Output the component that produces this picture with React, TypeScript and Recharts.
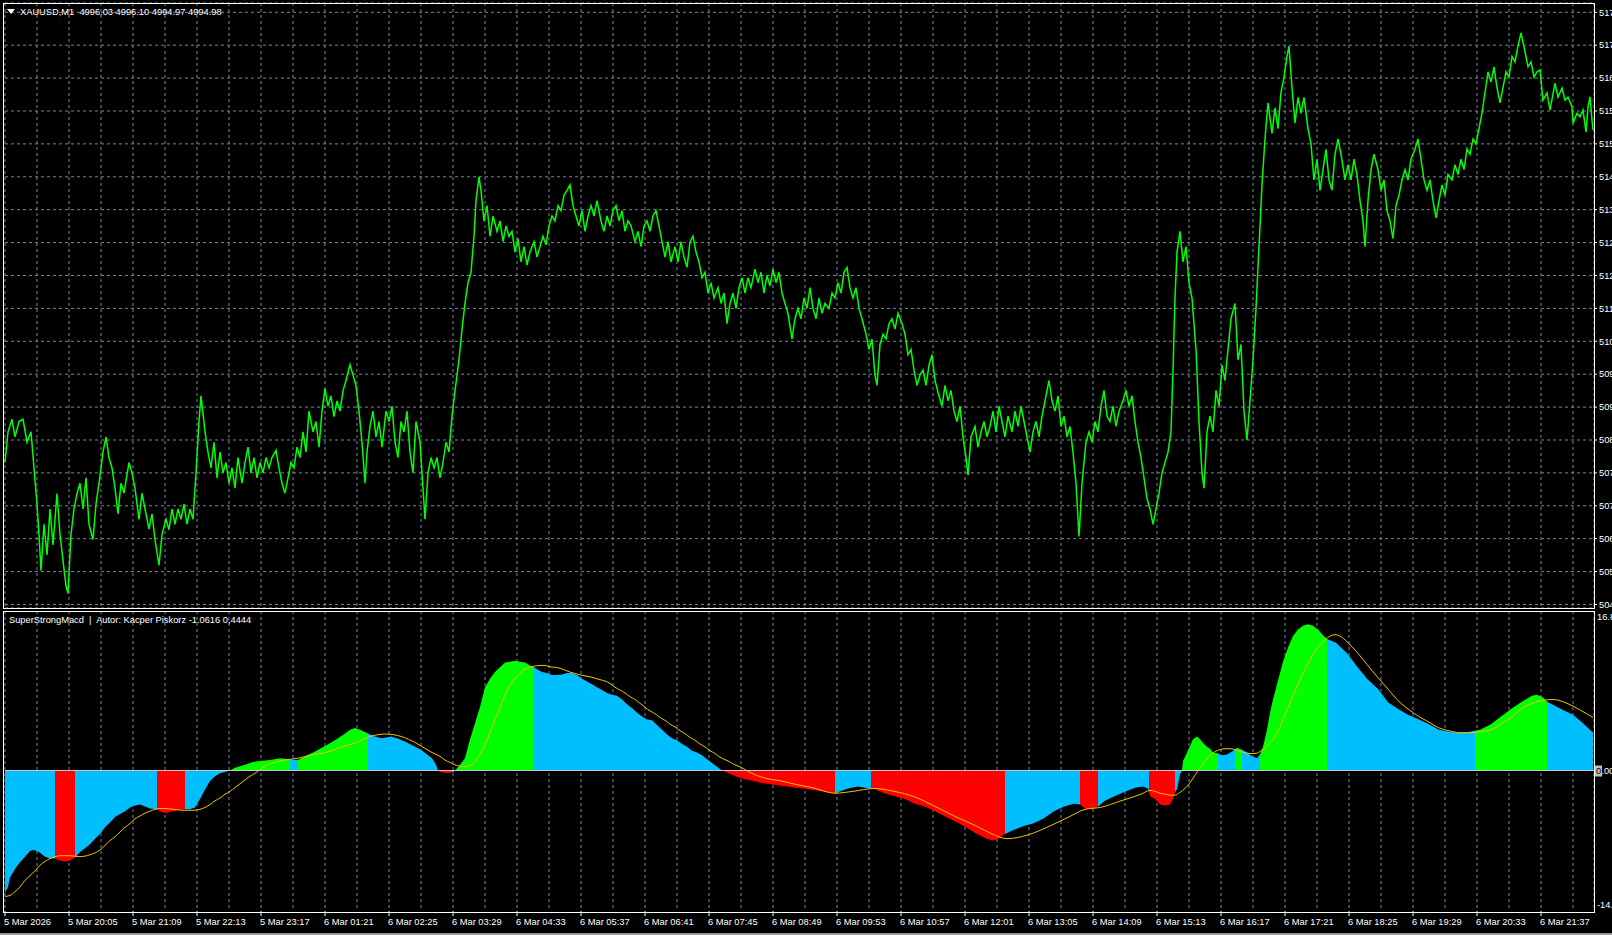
import { LineChart, Line, ComposedChart, Area, XAxis, YAxis, CartesianGrid, ReferenceLine } from 'recharts';

const FONT = '"Liberation Sans", Arial, sans-serif';
const GRID = '#778899';
const CYAN = '#00BFFF';
const GREEN = '#00FF00';
const RED = '#FF0000';
const GOLD = '#F2C200';

const headerText = 'XAUUSD,M1  4996.03 4996.10 4994.97 4994.98';
const indicatorText = 'SuperStrongMacd  |  Autor: Kacper Piskorz -1.0616 0,4444';

// one label every 64 bars, starting at bar 0
const timeLabels = [
  '5 Mar 2026', '5 Mar 20:05', '5 Mar 21:09', '5 Mar 22:13', '5 Mar 23:17',
  '6 Mar 01:21', '6 Mar 02:25', '6 Mar 03:29', '6 Mar 04:33', '6 Mar 05:37',
  '6 Mar 06:41', '6 Mar 07:45', '6 Mar 08:49', '6 Mar 09:53', '6 Mar 10:57',
  '6 Mar 12:01', '6 Mar 13:05', '6 Mar 14:09', '6 Mar 15:13', '6 Mar 16:17',
  '6 Mar 17:21', '6 Mar 18:25', '6 Mar 19:29', '6 Mar 20:33', '6 Mar 21:37',
];

const priceLevels = [
  5179.7, 5172.4, 5165.1, 5157.8, 5150.5, 5143.2, 5135.9, 5128.6, 5121.3, 5114.0,
  5106.7, 5099.4, 5092.1, 5084.8, 5077.5, 5070.2, 5062.9, 5055.6, 5048.3,
];
const priceDomain = [5047.52, 5181.76];
const macdDomain = [-14.84, 16.85];
const macdLevels = [16.85, -14.84];
const BAR_SPAN = 1589;

// [bar, close]
const pricePath: [number, number][] = [
  [0,5079.8],[3,5086.6],[7,5089.4],[10,5085.5],[14,5088.9],[18,5089.4],[22,5084.3],[26,5086.6],[29,5078.6],[32,5070.6],
  [34,5063.8],[36,5055.8],[39,5066.1],[42,5059.3],[45,5069.5],[48,5061.5],[52,5072.9],[55,5063.8],[58,5058.1],[61,5052.4],
  [63,5050.8],[66,5063.8],[69,5069.5],[72,5072.9],[75,5075.2],[78,5069.5],[81,5076.4],[84,5066.1],[88,5062.7],[91,5070.6],
  [94,5075.2],[98,5082.1],[101,5085.5],[104,5080.9],[107,5078.6],[110,5074.1],[113,5068.4],[116,5075.2],[119,5073.0],[124,5079.8],
  [127,5077.5],[130,5074.1],[134,5067.2],[137,5073.0],[140,5069.5],[144,5065.0],[147,5068.4],[150,5062.7],[154,5057.0],[157,5063.8],
  [161,5067.2],[164,5064.9],[167,5069.5],[170,5066.1],[173,5069.5],[176,5067.2],[179,5070.6],[182,5066.1],[185,5069.5],[188,5067.2],
  [191,5077.5],[194,5088.9],[196,5094.6],[200,5086.6],[203,5082.1],[206,5078.6],[209,5084.3],[212,5076.4],[215,5082.1],[218,5077.5],
  [221,5079.8],[224,5075.2],[227,5078.6],[230,5074.1],[233,5080.9],[237,5075.2],[240,5079.8],[243,5083.2],[246,5077.5],[249,5080.9],
  [252,5076.4],[255,5079.8],[258,5077.5],[261,5080.9],[264,5078.6],[267,5080.9],[271,5082.5],[274,5078.6],[277,5075.2],[280,5073.0],
  [283,5076.4],[286,5079.8],[289,5078.6],[292,5083.2],[295,5080.9],[298,5086.6],[301,5082.1],[304,5091.2],[308,5086.6],[311,5088.9],
  [314,5083.2],[317,5091.2],[320,5096.2],[323,5092.3],[326,5094.6],[329,5090.0],[332,5093.5],[335,5091.2],[338,5095.7],[341,5098.0],
  [345,5101.5],[348,5099.2],[351,5096.9],[354,5091.2],[357,5084.3],[360,5075.2],[362,5082.1],[365,5087.8],[368,5091.2],[371,5085.5],
  [374,5088.9],[377,5083.2],[381,5091.2],[384,5088.9],[387,5092.3],[390,5084.3],[393,5080.9],[396,5088.9],[399,5086.6],[402,5091.2],
  [405,5082.1],[408,5077.5],[411,5088.9],[415,5084.3],[418,5074.1],[420,5067.2],[423,5077.5],[426,5080.9],[429,5078.6],[432,5080.9],
  [435,5076.4],[438,5079.8],[441,5084.3],[444,5082.1],[447,5090.1],[450,5095.7],[454,5102.6],[457,5109.4],[460,5115.1],[463,5119.7],
  [466,5122.0],[469,5130.0],[471,5137.9],[474,5143.2],[476,5140.2],[479,5133.4],[482,5136.8],[485,5130.0],[488,5134.5],[492,5131.1],
  [495,5133.4],[498,5128.8],[501,5132.3],[504,5130.0],[507,5131.1],[510,5126.5],[513,5129.5],[516,5124.3],[519,5127.7],[522,5123.6],
  [525,5126.5],[529,5128.8],[532,5125.4],[535,5127.7],[538,5130.0],[541,5128.1],[544,5132.3],[547,5134.5],[550,5133.4],[553,5136.8],
  [556,5135.7],[559,5139.1],[562,5140.2],[565,5141.4],[568,5136.8],[571,5134.5],[574,5132.3],[577,5135.7],[580,5131.1],[583,5134.5],
  [586,5136.8],[589,5134.5],[592,5137.9],[596,5133.4],[599,5131.1],[602,5134.5],[605,5132.3],[608,5135.7],[611,5136.8],[614,5133.4],
  [617,5135.7],[620,5131.1],[623,5133.4],[626,5132.3],[630,5128.8],[633,5131.1],[636,5127.7],[639,5132.3],[642,5133.4],[645,5131.1],
  [648,5134.5],[651,5135.7],[654,5132.3],[657,5128.8],[660,5125.4],[663,5128.8],[666,5124.3],[670,5127.7],[673,5124.3],[676,5128.8],
  [679,5125.4],[682,5123.1],[685,5128.8],[688,5130.0],[691,5126.5],[694,5124.3],[697,5120.8],[700,5122.0],[703,5117.4],[706,5119.7],
  [709,5116.3],[713,5118.6],[716,5115.1],[719,5117.4],[722,5110.6],[725,5115.1],[728,5117.4],[731,5114.0],[734,5118.6],[737,5120.8],
  [740,5117.4],[743,5120.8],[746,5118.6],[750,5122.7],[753,5119.7],[756,5122.0],[759,5117.4],[762,5121.3],[765,5119.0],[768,5122.7],
  [771,5119.7],[774,5122.0],[777,5117.4],[780,5115.1],[783,5112.9],[787,5107.2],[790,5111.7],[793,5114.0],[796,5111.7],[799,5116.3],
  [802,5114.0],[805,5118.6],[808,5114.0],[811,5111.7],[814,5116.3],[817,5112.9],[820,5115.1],[824,5114.0],[827,5117.4],[830,5116.3],
  [833,5119.7],[836,5117.4],[839,5122.0],[842,5123.1],[845,5118.6],[848,5116.3],[851,5118.6],[854,5114.0],[857,5111.7],[861,5108.3],
  [864,5104.9],[867,5107.2],[870,5099.2],[872,5096.9],[875,5106.0],[878,5108.3],[881,5107.2],[884,5110.6],[887,5111.7],[890,5109.4],
  [893,5112.9],[897,5110.6],[900,5108.3],[903,5103.7],[906,5104.9],[909,5100.3],[912,5096.9],[915,5099.2],[918,5100.3],[921,5096.9],
  [924,5101.4],[927,5103.7],[930,5098.0],[934,5094.6],[937,5092.3],[940,5096.9],[943,5093.5],[946,5095.8],[949,5091.2],[952,5088.9],
  [955,5092.3],[958,5085.5],[961,5080.9],[963,5077.0],[966,5085.5],[970,5087.8],[973,5083.2],[976,5086.6],[979,5088.9],[982,5085.5],
  [985,5087.8],[988,5091.2],[991,5086.6],[994,5092.3],[997,5088.9],[1000,5085.5],[1003,5090.1],[1007,5086.6],[1010,5091.2],[1013,5087.8],
  [1016,5092.3],[1019,5088.9],[1022,5085.5],[1025,5082.1],[1028,5086.6],[1031,5088.9],[1034,5085.5],[1037,5090.1],[1040,5093.5],[1044,5098.0],
  [1047,5093.5],[1050,5091.2],[1053,5094.6],[1056,5087.8],[1059,5090.1],[1062,5085.5],[1065,5087.8],[1068,5082.1],[1071,5075.2],[1074,5063.4],
  [1077,5075.2],[1081,5084.3],[1084,5086.6],[1087,5084.3],[1090,5088.9],[1093,5086.6],[1096,5092.3],[1099,5095.8],[1102,5090.1],[1105,5088.9],
  [1108,5092.3],[1111,5087.8],[1114,5091.2],[1118,5093.5],[1121,5095.8],[1124,5092.3],[1127,5094.6],[1130,5088.9],[1133,5084.3],[1136,5080.9],
  [1139,5076.4],[1142,5071.8],[1145,5069.5],[1148,5066.1],[1150,5068.4],[1154,5073.0],[1157,5077.5],[1160,5079.8],[1163,5082.1],[1166,5086.6],
  [1168,5100.3],[1170,5116.3],[1172,5126.5],[1175,5131.1],[1178,5124.3],[1181,5127.7],[1184,5119.7],[1187,5116.3],[1191,5104.9],[1194,5088.9],
  [1197,5077.5],[1199,5074.1],[1202,5086.6],[1205,5090.1],[1208,5086.6],[1211,5095.8],[1214,5092.3],[1217,5101.4],[1220,5098.0],[1223,5104.9],
  [1226,5111.7],[1230,5115.1],[1233,5102.6],[1236,5106.0],[1239,5091.2],[1242,5084.8],[1245,5093.5],[1248,5102.6],[1251,5114.0],[1254,5127.7],
  [1257,5141.4],[1260,5151.6],[1263,5159.6],[1267,5152.8],[1270,5158.5],[1273,5153.9],[1276,5161.9],[1279,5165.3],[1282,5169.9],[1284,5172.2],
  [1287,5163.0],[1290,5155.1],[1293,5160.8],[1296,5157.3],[1299,5160.8],[1303,5153.9],[1306,5150.5],[1309,5142.5],[1312,5147.1],[1315,5140.2],
  [1318,5144.8],[1321,5149.3],[1324,5142.5],[1327,5140.2],[1330,5148.2],[1333,5151.6],[1336,5148.2],[1340,5142.5],[1343,5145.9],[1346,5142.5],
  [1349,5147.1],[1352,5143.7],[1355,5137.9],[1358,5133.4],[1360,5127.7],[1363,5137.9],[1366,5144.8],[1369,5148.2],[1373,5144.8],[1376,5140.2],
  [1379,5142.5],[1382,5135.7],[1385,5133.4],[1388,5129.5],[1391,5136.8],[1394,5139.1],[1397,5142.5],[1400,5144.8],[1403,5142.5],[1406,5147.1],
  [1410,5149.3],[1413,5151.6],[1416,5147.1],[1419,5142.5],[1422,5140.2],[1425,5142.5],[1428,5137.9],[1431,5134.1],[1434,5137.9],[1437,5141.4],
  [1440,5139.1],[1443,5143.7],[1447,5142.5],[1450,5145.9],[1453,5143.7],[1456,5147.1],[1459,5144.8],[1462,5149.4],[1465,5148.2],[1468,5151.6],
  [1471,5150.5],[1474,5153.9],[1477,5157.3],[1480,5161.9],[1483,5166.5],[1486,5164.2],[1489,5167.6],[1492,5163.0],[1495,5159.6],[1498,5163.0],
  [1501,5166.5],[1504,5165.3],[1507,5169.9],[1510,5168.7],[1513,5172.2],[1516,5175.1],[1520,5171.0],[1523,5167.6],[1526,5168.7],[1529,5165.3],
  [1532,5166.5],[1535,5166.9],[1538,5160.2],[1542,5161.8],[1545,5158.0],[1550,5164.0],[1553,5160.9],[1557,5162.9],[1560,5160.2],[1563,5160.9],
  [1567,5158.7],[1568,5155.1],[1572,5157.3],[1575,5156.5],[1578,5158.0],[1581,5153.1],[1583,5158.7],[1585,5160.9],[1587,5155.8],[1588,5153.6],
];

// [bar, histogram value]
const macdPath: [number, number][] = [
  [0,-12.9],[3,-12.3],[5,-11.3],[10,-10.4],[15,-9.7],[20,-9.1],[25,-8.5],[28,-8.4],[32,-8.5],[35,-8.7],
  [40,-9.1],[45,-9.3],[50,-9.3],[55,-9.5],[60,-9.6],[65,-9.5],[70,-9.2],[75,-8.6],[80,-8.2],[85,-7.8],
  [90,-7.2],[95,-6.7],[100,-6.0],[105,-5.5],[110,-4.9],[115,-4.6],[120,-4.3],[125,-3.9],[130,-3.7],[135,-3.6],
  [140,-3.8],[145,-4.0],[152,-4.1],[157,-4.4],[162,-4.5],[167,-4.3],[172,-4.2],[180,-4.1],[185,-4.1],[190,-3.9],
  [195,-3.0],[200,-2.0],[205,-1.1],[210,-0.6],[215,-0.3],[220,-0.15],[225,0],[230,0.3],[240,0.6],[248,0.9],
  [255,1.0],[265,1.1],[275,1.3],[285,1.2],[293,1.1],[300,1.5],[310,2.0],[320,2.6],[330,3.2],[340,3.9],
  [345,4.3],[350,4.5],[355,4.3],[363,3.9],[370,3.6],[376,3.4],[381,3.5],[386,3.6],[392,3.4],[401,3.0],
  [410,2.5],[416,2.2],[422,1.7],[427,1.3],[431,0.6],[433,0],[437,-0.2],[442,-0.25],[447,-0.2],[449,-0.1],
  [451,0.1],[455,0.6],[460,1.3],[465,3.3],[470,5.0],[475,6.7],[480,8.8],[485,9.7],[490,10.4],[495,10.9],
  [500,11.4],[505,11.5],[510,11.6],[515,11.5],[520,11.4],[525,11.1],[528,11.0],[532,10.7],[537,10.4],[542,10.3],
  [547,10.1],[552,10.1],[557,10.15],[562,10.3],[567,10.3],[572,10.1],[577,9.7],[582,9.4],[587,9.1],[592,8.8],
  [597,8.5],[602,8.2],[607,8.0],[612,7.9],[617,7.5],[622,7.0],[627,6.6],[632,6.1],[637,5.7],[642,5.4],
  [647,5.3],[652,4.8],[657,4.3],[662,3.8],[667,3.4],[672,3.2],[677,2.8],[682,2.5],[687,2.1],[692,1.9],
  [697,1.6],[702,1.2],[707,0.8],[712,0.4],[717,0],[735,-0.8],[756,-1.3],[776,-1.6],[797,-1.9],[817,-2.2],
  [830,-2.4],[843,-1.9],[853,-1.7],[864,-1.9],[869,-1.9],[879,-2.4],[889,-2.7],[900,-3.0],[910,-3.5],[920,-3.8],
  [930,-4.3],[941,-4.9],[951,-5.4],[961,-6.0],[972,-6.7],[982,-7.2],[987,-7.4],[992,-7.3],[1000,-6.7],[1008,-6.3],
  [1018,-5.9],[1028,-5.6],[1038,-5.1],[1049,-4.3],[1059,-3.8],[1069,-3.5],[1075,-3.6],[1080,-4.0],[1087,-4.1],[1093,-3.8],
  [1100,-3.2],[1110,-2.7],[1121,-2.2],[1131,-1.8],[1138,-1.7],[1143,-1.9],[1145,-2.7],[1150,-3.0],[1155,-3.6],[1160,-3.7],
  [1165,-3.6],[1168,-3.0],[1170,-2.3],[1172,-2.0],[1175,-0.4],[1177,0],[1178,1.0],[1182,1.9],[1185,2.6],[1188,3.3],
  [1192,3.6],[1195,3.3],[1198,2.9],[1202,2.5],[1205,2.3],[1208,1.9],[1213,1.8],[1217,1.6],[1222,1.7],[1227,2.0],
  [1230,2.2],[1232,2.4],[1237,2.2],[1242,1.9],[1247,1.5],[1252,1.3],[1255,1.7],[1258,2.5],[1262,4.3],[1265,6.1],
  [1268,7.5],[1273,9.5],[1278,11.5],[1283,13.0],[1288,14.2],[1293,14.9],[1298,15.3],[1303,15.45],[1308,15.3],[1313,14.9],
  [1318,14.3],[1322,13.9],[1331,13.5],[1342,12.4],[1352,11.0],[1362,9.7],[1373,8.6],[1383,7.2],[1393,6.5],[1403,5.9],
  [1414,5.4],[1424,4.9],[1434,4.3],[1444,4.1],[1455,4.0],[1465,4.1],[1470,4.2],[1475,4.3],[1486,4.9],[1496,5.7],
  [1506,6.5],[1516,7.2],[1527,7.9],[1532,8.0],[1537,7.8],[1542,7.3],[1547,7.0],[1558,6.4],[1568,5.9],[1578,5.0],
  [1588,4.0],
];

// [bar, signal value]
const signalPath: [number, number][] = [
  [0,-13.3],[5,-13.2],[10,-12.8],[15,-12.3],[20,-11.6],[25,-11.1],[30,-10.6],[35,-10.0],[40,-9.6],[45,-9.3],
  [50,-9.1],[55,-9.0],[65,-9.0],[75,-9.1],[85,-8.9],[90,-8.7],[95,-8.4],[100,-7.9],[105,-7.4],[110,-7.0],
  [115,-6.5],[120,-6.0],[125,-5.6],[130,-5.1],[135,-4.8],[140,-4.5],[145,-4.3],[150,-4.1],[158,-4.0],[168,-4.1],
  [178,-4.2],[188,-4.2],[195,-4.1],[200,-3.9],[205,-3.6],[210,-3.2],[215,-2.9],[220,-2.5],[225,-2.2],[230,-1.8],
  [235,-1.4],[240,-1.0],[245,-0.6],[250,-0.3],[255,0.1],[262,0.6],[272,0.9],[282,1.15],[293,1.3],[305,1.6],
  [324,2.0],[340,2.6],[350,2.9],[365,3.6],[381,3.85],[396,3.6],[411,2.9],[427,1.9],[435,1.5],[440,1.1],
  [445,0.85],[450,0.6],[455,0.45],[460,0.4],[465,0.55],[470,0.95],[475,1.7],[480,2.7],[485,4.0],[490,5.4],
  [495,6.7],[500,8.0],[505,9.0],[510,9.7],[515,10.3],[520,10.7],[525,10.9],[535,11.1],[540,11.1],[545,10.95],
  [550,10.9],[555,10.8],[560,10.6],[565,10.4],[570,10.25],[575,10.1],[580,10.0],[585,9.9],[590,9.75],[595,9.6],
  [600,9.45],[605,9.2],[610,8.8],[615,8.5],[620,8.2],[625,7.8],[630,7.5],[635,7.1],[640,6.7],[645,6.3],
  [650,6.0],[655,5.6],[660,5.3],[665,4.9],[670,4.6],[675,4.2],[680,3.9],[685,3.5],[690,3.2],[695,2.8],
  [700,2.5],[705,2.1],[710,1.8],[715,1.4],[720,1.15],[725,0.9],[730,0.6],[735,0.4],[745,-0.2],[760,-0.8],
  [776,-1.1],[792,-1.5],[807,-1.8],[830,-2.4],[848,-2.2],[869,-1.9],[889,-2.2],[910,-2.8],[930,-3.8],[951,-4.9],
  [972,-5.9],[987,-6.7],[1002,-7.2],[1023,-6.8],[1044,-5.9],[1064,-4.9],[1080,-4.1],[1095,-3.9],[1116,-3.2],[1136,-2.5],
  [1145,-2.1],[1150,-2.2],[1155,-2.4],[1160,-2.5],[1165,-2.6],[1170,-2.6],[1175,-2.3],[1180,-1.9],[1185,-1.3],[1190,-0.5],
  [1195,0.3],[1200,1.0],[1205,1.6],[1210,2.0],[1215,2.2],[1220,2.3],[1225,2.3],[1230,2.2],[1235,2.0],[1240,1.9],
  [1245,1.8],[1250,1.8],[1255,2.0],[1260,2.4],[1265,2.9],[1270,3.6],[1275,4.6],[1280,5.9],[1285,7.1],[1290,8.4],
  [1295,9.6],[1300,10.7],[1305,11.7],[1310,12.6],[1315,13.3],[1320,13.8],[1325,14.2],[1330,14.35],[1335,14.2],[1342,13.6],
  [1352,12.5],[1362,11.2],[1373,9.8],[1383,8.6],[1393,7.4],[1403,6.5],[1414,5.7],[1424,5.1],[1434,4.5],[1444,4.2],
  [1455,4.0],[1465,4.0],[1475,4.1],[1486,4.3],[1496,4.9],[1506,5.6],[1516,6.5],[1527,7.1],[1537,7.4],[1548,7.5],
  [1562,7.1],[1575,6.4],[1588,5.6],
];

// histogram colour changes: first bar of each run
const segStart = [0, 50, 70, 152, 180, 225, 285, 293, 363, 433, 447, 451, 528, 717, 830, 866, 1000, 1075, 1093, 1144, 1170, 1177, 1213, 1230, 1237, 1255, 1322, 1470, 1542];
const segColor = [CYAN, RED, CYAN, RED, CYAN, GREEN, CYAN, GREEN, CYAN, RED, CYAN, GREEN, CYAN, RED, CYAN, RED, CYAN, RED, CYAN, RED, CYAN, GREEN, CYAN, GREEN, CYAN, GREEN, CYAN, GREEN, CYAN];

const gridBars = Array.from({ length: 50 }, (_, i) => i * 32);

const priceData = pricePath.map(([bar, close]) => ({ bar, close }));
const macdData = macdPath.map(([bar, v]) => ({ bar, v }));
const signalData = signalPath.map(([bar, s]) => ({ bar, s }));

const axisText = { fill: '#fff', fontSize: 9.3, fontFamily: FONT };

function TimeTick({ x, y, payload }: any) {
  const v = payload?.value ?? 0;
  if (v % 64 !== 0) return null;
  const label = timeLabels[v / 64];
  if (!label) return null;
  return (
    <g>
      <line x1={x} x2={x} y1={y - 7} y2={y - 2} stroke="#fff" />
      <text x={x - 1} y={y} dy="0.72em" textAnchor="start" {...axisText}>
        {label}
      </text>
    </g>
  );
}

function MacdTick({ x, y, payload }: any) {
  const top = payload.value > 0;
  return (
    <text x={x - 2} y={y + (top ? 6 : -6)} dy="0.35em" textAnchor="start" {...axisText}>
      {payload.value.toFixed(2)}
    </text>
  );
}

function ZeroLabel({ viewBox }: any) {
  const x = viewBox.x + viewBox.width;
  const y = viewBox.y;
  return (
    <g>
      <rect x={x + 1} y={y - 5} width={7} height={11} fill="#c0c0c0" />
      <text x={x + 2} y={y} dy="0.35em" fill="#000" fontSize={9.3} fontFamily={FONT}>0</text>
      <text x={x + 7.3} y={y} dy="0.35em" fill="#fff" fontSize={9.3} fontFamily={FONT}>.00</text>
    </g>
  );
}

function HistGradient() {
  const first = macdPath[0][0];
  const last = macdPath[macdPath.length - 1][0];
  const span = last - first;
  return (
    <defs>
      <linearGradient id="histFill" x1="0" y1="0" x2="1" y2="0">
        {segStart.flatMap((s, i) => {
          const e = i + 1 < segStart.length ? segStart[i + 1] : last;
          return [
            <stop key={`a${i}`} offset={(s - first) / span} stopColor={segColor[i]} />,
            <stop key={`b${i}`} offset={(e - first) / span} stopColor={segColor[i]} />,
          ];
        })}
      </linearGradient>
    </defs>
  );
}

const frame = (top: number, height: number) => ({
  position: 'absolute' as const,
  left: 3,
  top,
  width: 1592,
  height,
  border: '1px solid #fff',
  boxSizing: 'border-box' as const,
  pointerEvents: 'none' as const,
});

export default function App() {
  return (
    <div style={{ position: 'absolute', left: 0, top: 0, width: 1612, height: 935, background: '#000', overflow: 'hidden', fontFamily: FONT }}>
      <div style={{ position: 'absolute', left: 0, top: 0 }}>
        <LineChart width={1612} height={612} margin={{ top: 3, right: 0, bottom: 4, left: 5 }}>
          <CartesianGrid stroke={GRID} strokeDasharray="3 3" />
          <XAxis type="number" dataKey="bar" domain={[0, BAR_SPAN]} ticks={gridBars} interval={0} hide />
          <YAxis
            orientation="right"
            type="number"
            domain={priceDomain}
            ticks={priceLevels}
            interval={0}
            width={18}
            tickSize={3}
            tickMargin={2}
            axisLine={false}
            tickLine={{ stroke: '#fff' }}
            tick={axisText}
            tickFormatter={(v: number) => v.toFixed(2)}
          />
          <Line data={priceData} dataKey="close" type="linear" stroke={GREEN} strokeWidth={1.5} strokeLinejoin="miter" dot={false} isAnimationActive={false} />
        </LineChart>
      </div>

      <div style={{ position: 'absolute', left: 0, top: 611 }}>
        <ComposedChart width={1612} height={324} margin={{ top: 0, right: 0, bottom: 0, left: 5 }}>
          <HistGradient />
          <CartesianGrid stroke={GRID} strokeDasharray="3 3" horizontal={false} />
          <XAxis
            type="number"
            dataKey="bar"
            domain={[0, BAR_SPAN]}
            ticks={gridBars}
            interval={0}
            height={24}
            tickSize={5}
            tickMargin={2}
            axisLine={false}
            tickLine={false}
            tick={<TimeTick />}
          />
          <YAxis
            orientation="right"
            type="number"
            domain={macdDomain}
            ticks={macdLevels}
            interval={0}
            width={18}
            tickSize={3}
            tickMargin={2}
            axisLine={false}
            tickLine={false}
            tick={<MacdTick />}
          />
          <Area data={macdData} dataKey="v" type="linear" baseValue={0} stroke="none" fill="url(#histFill)" fillOpacity={1} isAnimationActive={false} />
          <Line data={signalData} dataKey="s" type="monotone" stroke={GOLD} strokeWidth={1} dot={false} isAnimationActive={false} />
          <ReferenceLine y={0} stroke="#c8c8c8" label={<ZeroLabel />} />
        </ComposedChart>
      </div>

      <div style={frame(3, 606)} />
      <div style={frame(611, 302)} />
      <div style={{ position: 'absolute', left: 0, top: 933, width: 1612, height: 2, background: '#9a9a9a' }} />

      <div style={{ position: 'absolute', left: 7, top: 9, width: 0, height: 0, borderLeft: '4px solid transparent', borderRight: '4px solid transparent', borderTop: '5px solid #fff' }} />
      <div style={{ position: 'absolute', left: 20, top: 6, color: '#fff', fontSize: 9.3, lineHeight: '12px', whiteSpace: 'pre' }}>{headerText}</div>
      <div style={{ position: 'absolute', left: 9, top: 614, color: '#fff', fontSize: 9.3, lineHeight: '12px', whiteSpace: 'pre' }}>{indicatorText}</div>
    </div>
  );
}
